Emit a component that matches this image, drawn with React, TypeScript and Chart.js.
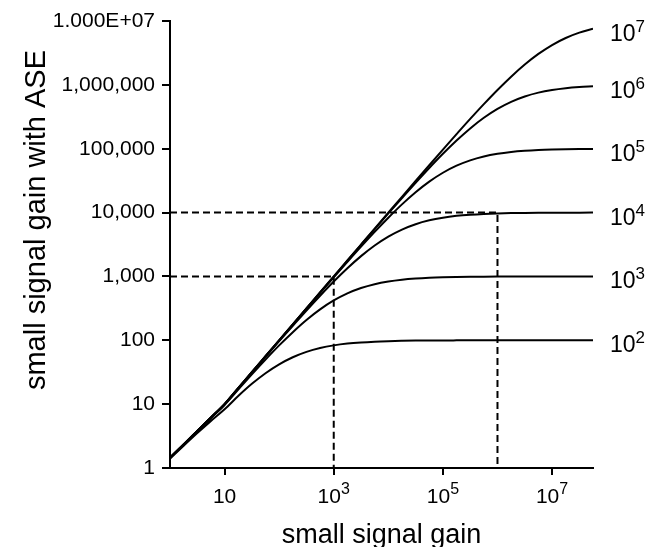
import React, { useEffect, useRef } from 'react';
import { Chart, registerables } from 'chart.js';

Chart.register(...registerables);

const FONT = "'Liberation Sans', Arial, Helvetica, sans-serif";

// small signal gain (x), quarter-decade steps from 1 to ~5.6e7
const GAIN_X = [
  1, 1.778, 3.162, 5.623, 10, 17.78, 31.62, 56.23, 100, 177.8, 316.2, 562.3,
  1000, 1778, 3162, 5623, 1e4, 17783, 31623, 56234, 1e5, 177828, 316228, 562341,
  1e6, 1778279, 3162278, 5623413, 1e7, 17782794, 31622777, 56234133,
];

// small signal gain with ASE, one curve per saturation level
const CURVE_1E2 = [
  1.40, 2.23, 3.52, 5.47, 8.32, 13.4, 20.8, 30.5, 42.0, 54.2, 65.8, 75.6,
  83.2, 88.8, 92.6, 95.2, 96.9, 98.0, 98.8, 99.2, 99.5, 99.7, 99.8, 99.9,
  99.9, 100, 100, 100, 100, 100, 100, 100,
];
const CURVE_1E3 = [
  1.44, 2.33, 3.75, 6.05, 9.69, 16.9, 29.3, 49.9, 83.2, 134, 208, 305,
  420, 542, 658, 756, 832, 888, 926, 952, 969, 980, 988, 992,
  995, 997, 998, 999, 999, 1000, 1000, 1000,
];
const CURVE_1E4 = [
  1.44, 2.34, 3.79, 6.14, 9.95, 17.6, 31.2, 55.1, 96.9, 169, 293, 499,
  832, 1344, 2080, 3050, 4205, 5424, 6577, 7556, 8318, 8879, 9262, 9524,
  9694, 9804, 9876, 9920, 9950, 9968, 9980, 9987,
];
const CURVE_1E5 = [
  1.45, 2.34, 3.80, 6.17, 10.0, 17.8, 31.6, 56.1, 99.5, 176, 312, 551,
  969, 1690, 2927, 4990, 8318, 13440, 20800, 30500, 42050, 54240, 65770, 75560,
  83180, 88790, 92620, 95240, 96940, 98040, 98760, 99200,
];
const CURVE_1E6 = [
  1.45, 2.34, 3.80, 6.17, 10.0, 17.8, 31.6, 56.2, 99.9, 177.6, 315.6, 561,
  995, 1765, 3123, 5514, 9694, 16900, 29270, 49900, 83180, 134400, 208000, 305000,
  420500, 542400, 657700, 755600, 831800, 887900, 926200, 952400,
];
const CURVE_1E7 = [
  1.45, 2.34, 3.80, 6.17, 10.0, 17.8, 31.6, 56.2, 100, 177.8, 316, 562,
  999, 1776, 3156, 5606, 9950, 17650, 31230, 55140, 96940, 169000, 292700, 499000,
  831800, 1344000, 2080000, 3050000, 4205000, 5424000, 6577000, 7556000,
];

const CURVES = [CURVE_1E2, CURVE_1E3, CURVE_1E4, CURVE_1E5, CURVE_1E6, CURVE_1E7];
const CURVE_LABEL_BASE = ['10', '10', '10', '10', '10', '10'];
const CURVE_LABEL_EXP = ['2', '3', '4', '5', '6', '7'];

// dashed guide lines
const GUIDE_1E3_X = [1, 1000, 1000];
const GUIDE_1E3_Y = [1000, 1000, 1];
const GUIDE_1E4_X = [1, 1e6, 1e6];
const GUIDE_1E4_Y = [1e4, 1e4, 1];

// axes
const X_MIN = 1;
const X_MAX = 56234133;
const Y_MIN = 1;
const Y_MAX = 1e7;
const X_TICKS = [10, 1e3, 1e5, 1e7];
const X_TICK_BASE = ['10', '10', '10', '10'];
const X_TICK_EXP = ['', '3', '5', '7'];
const Y_TICKS = [1, 10, 100, 1000, 1e4, 1e5, 1e6, 1e7];
const Y_TICK_LABELS = ['1', '10', '100', '1,000', '10,000', '100,000', '1,000,000', '1.000E+07'];

const X_TITLE = 'small signal gain';
const Y_TITLE = 'small signal gain with ASE';

const textPlugin = {
  id: 'customText',
  afterDraw(chart: any) {
    const ctx = chart.ctx as CanvasRenderingContext2D;
    const xs = chart.scales.x;
    const ys = chart.scales.y;
    const area = chart.chartArea;
    ctx.save();
    ctx.fillStyle = '#000';
    ctx.textAlign = 'left';
    ctx.textBaseline = 'alphabetic';

    // x tick labels with superscripts
    X_TICKS.forEach((v, i) => {
      const px = xs.getPixelForValue(v);
      ctx.font = `21px ${FONT}`;
      const wb = ctx.measureText(X_TICK_BASE[i]).width;
      ctx.font = `16px ${FONT}`;
      const we = X_TICK_EXP[i] ? ctx.measureText(X_TICK_EXP[i]).width : 0;
      const x0 = px - (wb + we) / 2;
      const base = area.bottom + 35;
      ctx.font = `21px ${FONT}`;
      ctx.fillText(X_TICK_BASE[i], x0, base);
      if (X_TICK_EXP[i]) {
        ctx.font = `16px ${FONT}`;
        ctx.fillText(X_TICK_EXP[i], x0 + wb, base - 9);
      }
    });

    // curve end labels
    CURVES.forEach((c, i) => {
      const py = ys.getPixelForValue(c[c.length - 1]);
      const x0 = area.right + 17;
      const base = py + 12;
      ctx.font = `23px ${FONT}`;
      const wb = ctx.measureText(CURVE_LABEL_BASE[i]).width;
      ctx.fillText(CURVE_LABEL_BASE[i], x0, base);
      ctx.font = `17px ${FONT}`;
      ctx.fillText(CURVE_LABEL_EXP[i], x0 + wb, base - 9);
    });

    // axis titles
    ctx.font = `27px ${FONT}`;
    ctx.textAlign = 'center';
    ctx.fillText(X_TITLE, (area.left + area.right) / 2, 543);
    ctx.font = `29px ${FONT}`;
    ctx.translate(45, 220);
    ctx.rotate(-Math.PI / 2);
    ctx.fillText(Y_TITLE, 0, 0);
    ctx.restore();
  },
};

export default function App() {
  const ref = useRef<HTMLCanvasElement | null>(null);

  useEffect(() => {
    if (!ref.current) return;
    const curveSets = CURVES.map((c) => ({
      data: GAIN_X.map((x, i) => ({ x, y: c[i] })),
      borderColor: '#000',
      borderWidth: 2,
      pointRadius: 0,
      fill: false,
      cubicInterpolationMode: 'monotone' as const,
    }));
    const guide = (xs: number[], yv: number[]) => ({
      data: xs.map((x, i) => ({ x, y: yv[i] })),
      borderColor: '#000',
      borderWidth: 2,
      borderDash: [7, 4],
      pointRadius: 0,
      fill: false,
      tension: 0,
    });
    const chart = new Chart(ref.current, {
      type: 'line',
      data: {
        datasets: [
          guide(GUIDE_1E3_X, GUIDE_1E3_Y),
          guide(GUIDE_1E4_X, GUIDE_1E4_Y),
          ...curveSets,
        ] as any,
      },
      options: {
        responsive: false,
        animation: false,
        devicePixelRatio: 1,
        layout: { padding: { left: 0, top: 21, right: 57, bottom: 0 } },
        plugins: { legend: { display: false }, tooltip: { enabled: false } },
        scales: {
          x: {
            type: 'logarithmic',
            position: 'bottom',
            min: X_MIN,
            max: X_MAX,
            afterBuildTicks: (s: any) => {
              s.ticks = X_TICKS.map((v) => ({ value: v }));
            },
            afterFit: (s: any) => {
              s.height = 79;
            },
            ticks: { display: false },
            grid: {
              drawOnChartArea: false,
              drawTicks: true,
              tickLength: 7,
              color: '#000',
              lineWidth: 2,
            },
            border: { display: true, color: '#000', width: 2 },
          },
          y: {
            type: 'logarithmic',
            position: 'left',
            min: Y_MIN,
            max: Y_MAX,
            afterBuildTicks: (s: any) => {
              s.ticks = Y_TICKS.map((v) => ({ value: v }));
            },
            afterFit: (s: any) => {
              s.width = 170;
            },
            ticks: {
              autoSkip: false,
              color: '#000',
              padding: 7,
              font: { family: FONT, size: 21 },
              callback: (value: any) => {
                const idx = Y_TICKS.indexOf(Number(value));
                return idx >= 0 ? Y_TICK_LABELS[idx] : '';
              },
            },
            grid: {
              drawOnChartArea: false,
              drawTicks: true,
              tickLength: 8,
              color: '#000',
              lineWidth: 2,
            },
            border: { display: true, color: '#000', width: 2 },
          },
        },
      } as any,
      plugins: [textPlugin],
    });
    return () => chart.destroy();
  }, []);

  return (
    <div style={{ position: 'absolute', left: 0, top: 0, width: 650, height: 547, background: '#fff' }}>
      <canvas ref={ref} width={650} height={547} style={{ width: 650, height: 547, display: 'block' }} />
    </div>
  );
}
